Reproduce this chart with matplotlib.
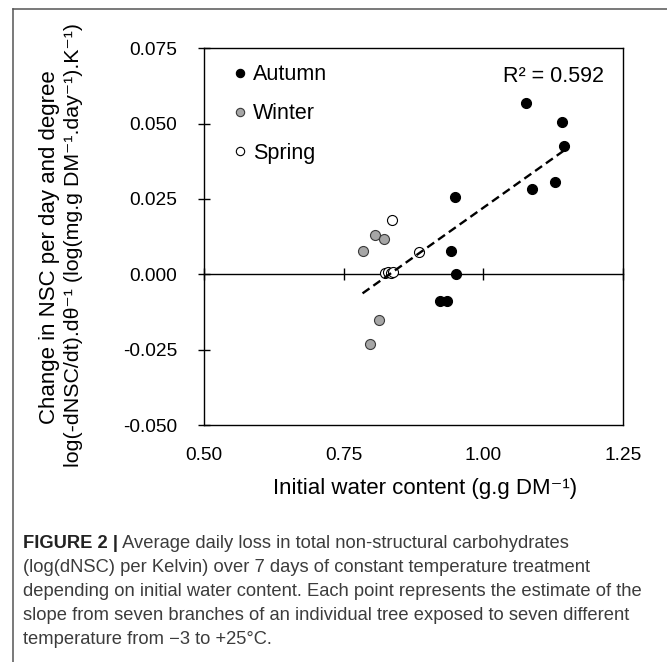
import numpy as np
import matplotlib
matplotlib.use("Agg")
import matplotlib.pyplot as plt
from matplotlib.lines import Line2D

plt.rcParams['font.family'] = ['Liberation Sans', 'DejaVu Sans']

# Initial water content (g.g DM-1) and NSC change per degree, by season
autumn_x = [1.077, 1.141, 1.144, 1.087, 1.128, 0.949, 0.942, 0.951, 0.923, 0.936]
autumn_y = [0.0567, 0.0505, 0.0427, 0.0283, 0.0308, 0.0256, 0.0076, 0.0000, -0.0088, -0.0088]
winter_x = [0.806, 0.822, 0.784, 0.814, 0.798]
winter_y = [0.0129, 0.0116, 0.0077, -0.0150, -0.0230]
spring_x = [0.837, 0.885, 0.825, 0.830, 0.835, 0.839]
spring_y = [0.0181, 0.0073, 0.0005, 0.0008, 0.0005, 0.0008]

x_ticks = [0.50, 0.75, 1.00, 1.25]
y_ticks = [-0.050, -0.025, 0.000, 0.025, 0.050, 0.075]
r_squared = 0.592

caption_lines = [
    "Average daily loss in total non-structural carbohydrates",
    "(log(dNSC) per Kelvin) over 7 days of constant temperature treatment",
    "depending on initial water content. Each point represents the estimate of the",
    "slope from seven branches of an individual tree exposed to seven different",
    "temperature from \u22123 to +25\u00b0C.",
]

SUP = "\u207b\u00b9"  # superscript -1

W, H = 667, 662
fig = plt.figure(figsize=(W / 100, H / 100), dpi=100)
ax = fig.add_axes([204 / W, 1 - 425 / H, (622.7 - 204) / W, (425 - 48.3) / H])
ax.set_xlim(0.5, 1.25)
ax.set_ylim(-0.05, 0.075)

for s in ax.spines.values():
    s.set_linewidth(1.0)
    s.set_color('black')

# horizontal axis crosses at zero, labels sit on the frame bottom
ax.spines['bottom'].set_position(('data', 0))
ax.set_xticks(x_ticks)
ax.tick_params(axis='x', direction='inout', length=9, width=1.0, labelbottom=False)
sec = ax.secondary_xaxis('bottom')
sec.set_xticks(x_ticks, labels=[f"{t:.2f}" for t in x_ticks])
sec.tick_params(length=0, pad=16, labelsize=13.8)
sec.spines['bottom'].set_linewidth(1.0)

fig.text(425 / W, 1 - 478 / H, f"Initial water content (g.g DM{SUP})", fontsize=16,
         ha='center', va='top')

ax.set_yticks(y_ticks, labels=[f"{v:.3f}" for v in y_ticks])
ax.tick_params(axis='y', direction='inout', length=9, width=1.0, pad=15, labelsize=13.8)

ms = 52
ax.scatter(autumn_x, autumn_y, s=ms, c='black', edgecolors='black', linewidths=0.8, zorder=3)
ax.scatter(winter_x, winter_y, s=ms, c='#a6a6a6', edgecolors='#3a3a3a', linewidths=0.8, zorder=3)
ax.scatter(spring_x, spring_y, s=ms, c='white', edgecolors='black', linewidths=0.8, zorder=3)

# linear trend over all points
all_x = np.array(autumn_x + winter_x + spring_x)
all_y = np.array(autumn_y + winter_y + spring_y)
coef = np.polyfit(all_x, all_y, 1)
xs = np.array([all_x.min(), all_x.max()])
ax.plot(xs, np.polyval(coef, xs), color='black', lw=1.7, dashes=(3.6, 2.0), zorder=4)

ax.text(0.955, 0.9246, f"R\u00b2 = {r_squared:.3f}", transform=ax.transAxes,
        ha='right', va='center', fontsize=15.5)

handles = [
    Line2D([], [], ls='none', marker='o', ms=6, mfc='black', mec='black', mew=0.8),
    Line2D([], [], ls='none', marker='o', ms=6, mfc='#a6a6a6', mec='#3a3a3a', mew=0.8),
    Line2D([], [], ls='none', marker='o', ms=6, mfc='white', mec='black', mew=0.8),
]
ax.legend(handles, ["Autumn", "Winter", "Spring"], loc='upper left',
          bbox_to_anchor=(0.0705, 0.958), frameon=False, fontsize=15.5,
          handlelength=0.6, handletextpad=0.3, labelspacing=0.85,
          borderpad=0, borderaxespad=0)

# two-line vertical axis title
fig.text(49 / W, 1 - 247.5 / H, "Change in NSC per day and degree", rotation=90,
         ha='center', va='center', fontsize=16)
fig.text(74 / W, 1 - 245 / H,
         f"log(-dNSC/dt).d\u03b8{SUP} (log(mg.g DM{SUP}.day{SUP}).K{SUP})",
         rotation=90, ha='center', va='center', fontsize=15.4)

# page frame
fig.add_artist(Line2D([13.5 / W, 1], [1 - 8.5 / H, 1 - 8.5 / H], color='#555555', lw=1.1,
                      transform=fig.transFigure))
fig.add_artist(Line2D([13.5 / W, 13.5 / W], [0, 1 - 8.5 / H], color='#555555', lw=1.1,
                      transform=fig.transFigure))

# caption
cap_size = 13.2
cap_x = 23 / W
base0 = 548
step = 24
bold = fig.text(cap_x, 1 - base0 / H, "FIGURE 2 |", fontsize=cap_size, fontweight='bold',
                color='#222222', ha='left', va='baseline')
r = fig.canvas.get_renderer()
bb = bold.get_window_extent(r)
fig.text(bb.x1 / W, 1 - base0 / H, " " + caption_lines[0], fontsize=cap_size,
         color='#3c3c3c', ha='left', va='baseline')
for i, line in enumerate(caption_lines[1:], start=1):
    fig.text(cap_x, 1 - (base0 + i * step) / H, line, fontsize=cap_size, color='#3c3c3c',
             ha='left', va='baseline')

fig.savefig("out.png", dpi=100)
